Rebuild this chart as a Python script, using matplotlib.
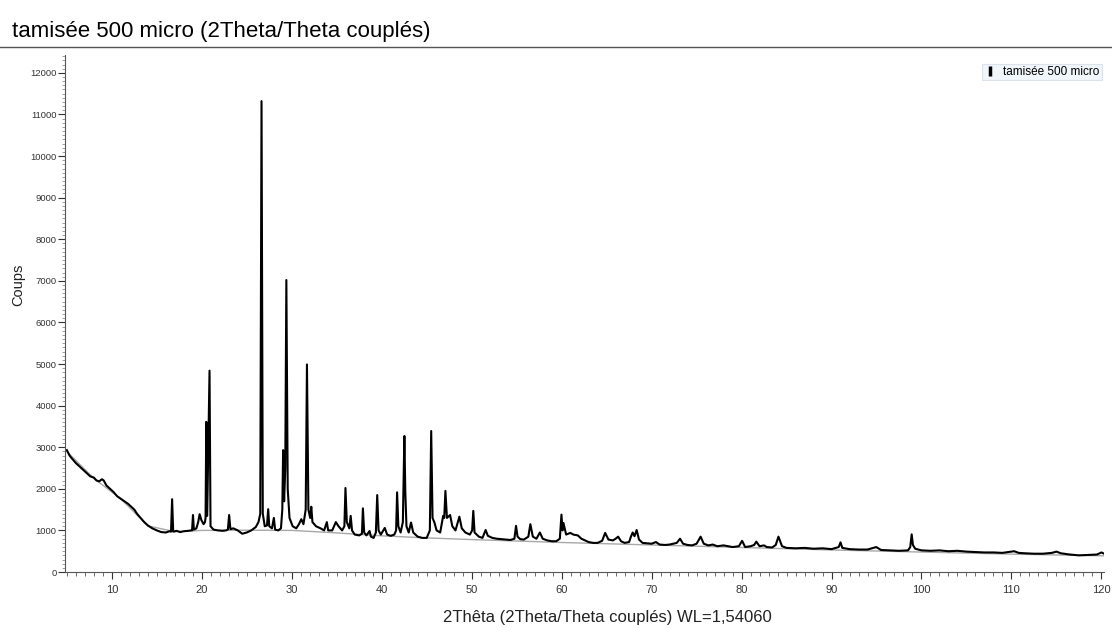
import matplotlib.pyplot as plt
from matplotlib.lines import Line2D
from matplotlib.ticker import MultipleLocator

plt.rcParams['font.family'] = ['Liberation Sans', 'DejaVu Sans']

two_theta = [
    5.0, 5.3, 5.6, 6.0, 6.3, 6.6, 7.0, 7.3, 7.6, 8.0, 8.3, 8.6, 8.9, 9.1, 9.4, 9.8,
    10.2, 10.6, 11.0, 11.4, 11.8, 12.2, 12.5, 12.8, 13.2, 13.6, 14.0, 14.5, 15.0, 15.5,
    16.0, 16.4, 16.58, 16.70, 16.82, 17.2, 17.6, 18.0, 18.5, 18.8, 18.92, 19.02, 19.12,
    19.4, 19.6, 19.76, 19.95, 20.2, 20.35, 20.42, 20.50, 20.60, 20.86, 20.97, 21.3, 21.8,
    22.3, 22.7, 22.9, 23.04, 23.18, 23.5, 24.0, 24.5, 25.0, 25.5, 26.0, 26.3, 26.5, 26.64,
    26.78, 27.0, 27.25, 27.38, 27.5, 27.8, 28.01, 28.15, 28.5, 28.8, 28.95, 29.04, 29.15,
    29.28, 29.40, 29.55, 29.75, 30.1, 30.5, 30.8, 31.06, 31.3, 31.55, 31.69, 31.85, 32.05,
    32.17, 32.3, 32.7, 33.2, 33.6, 33.9, 34.05, 34.5, 34.9, 35.2, 35.6, 35.85, 35.97, 36.12,
    36.4, 36.55, 36.7, 37.0, 37.5, 37.8, 37.91, 38.05, 38.3, 38.65, 38.8, 39.1, 39.35, 39.50,
    39.65, 39.9, 40.34, 40.6, 41.0, 41.4, 41.6, 41.71, 41.85, 42.1, 42.35, 42.52, 42.62,
    42.75, 43.0, 43.26, 43.5, 44.0, 44.5, 45.0, 45.35, 45.50, 45.65, 45.86, 46.1, 46.5,
    46.83, 46.95, 47.08, 47.25, 47.6, 47.85, 48.2, 48.63, 48.9, 49.3, 49.8, 50.05, 50.18,
    50.32, 50.8, 51.2, 51.55, 51.8, 52.3, 52.8, 53.3, 53.8, 54.3, 54.75, 54.93, 55.1, 55.4,
    55.8, 56.3, 56.52, 56.8, 57.2, 57.58, 57.9, 58.4, 58.9, 59.4, 59.8, 59.98, 60.1, 60.2,
    60.5, 60.97, 61.3, 61.8, 62.2, 62.6, 63.0, 63.5, 64.0, 64.5, 64.84, 65.2, 65.7, 66.0,
    66.28, 66.6, 67.0, 67.5, 67.7, 67.90, 68.1, 68.34, 68.6, 69.0, 69.5, 70.0, 70.48, 70.9,
    71.5, 72.0, 72.8, 73.16, 73.5, 74.0, 74.5, 75.0, 75.45, 75.8, 76.3, 76.8, 77.3, 78.0,
    78.5, 79.0, 79.7, 80.06, 80.4, 81.0, 81.4, 81.64, 82.0, 82.5, 82.8, 83.4, 83.8, 84.10,
    84.5, 85.0, 86.0, 87.0, 88.0, 89.0, 90.0, 90.8, 91.0, 91.2, 92.0, 93.0, 94.0, 94.97,
    95.5, 96.5, 97.5, 98.5, 98.75, 98.91, 99.05, 99.3, 100.0, 101.0, 102.0, 103.0, 104.0,
    105.0, 106.0, 107.0, 108.0, 109.0, 110.0, 110.3, 110.8, 111.5, 112.5, 113.5, 114.5,
    115.0, 115.5, 116.5, 117.5, 118.5, 119.5, 120.0, 120.3,
]
counts = [
    2930, 2800, 2720, 2620, 2560, 2500, 2420, 2360, 2300, 2270, 2200, 2180, 2230, 2200, 2080, 2000,
    1920, 1820, 1760, 1700, 1640, 1560, 1500, 1400, 1300, 1200, 1120, 1050, 1000, 960,
    950, 980, 970, 1750, 970, 990, 960, 980, 990, 1000, 1000, 1370, 1020,
    1050, 1200, 1390, 1250, 1150, 1200, 1300, 3610, 1350, 4840, 1100, 1020, 1000,
    990, 1000, 1020, 1370, 1030, 1050, 1000, 920, 950, 1000, 1080, 1200, 1400, 11320,
    1400, 1100, 1120, 1510, 1100, 1050, 1300, 1020, 1000, 1050, 1500, 2930, 1700,
    2500, 7020, 2000, 1300, 1100, 1050, 1150, 1270, 1150, 1500, 4990, 1500, 1300,
    1570, 1200, 1100, 1050, 1000, 1200, 1000, 1000, 1200, 1100, 1000, 1100, 2020, 1200,
    1050, 1350, 1000, 900, 880, 920, 1530, 950, 880, 985, 850, 820, 950, 1850,
    1000, 900, 1060, 900, 870, 900, 1000, 1915, 1100, 950, 1200, 3270, 1940,
    1100, 950, 1190, 950, 850, 820, 820, 1000, 3390, 1300, 1190, 1000, 950,
    1350, 1300, 1950, 1300, 1370, 1100, 1000, 1330, 1050, 950, 900, 1000, 1470,
    950, 850, 820, 1010, 870, 820, 800, 790, 780, 770, 800, 1110, 850, 790,
    780, 850, 1150, 850, 800, 950, 800, 760, 740, 740, 800, 1380, 1000, 1180,
    900, 940, 900, 880, 800, 760, 720, 700, 700, 750, 940, 780, 760, 800,
    850, 740, 700, 720, 850, 950, 860, 1010, 780, 700, 690, 680, 720, 660,
    650, 660, 700, 800, 680, 650, 640, 680, 850, 680, 640, 660, 620, 640,
    620, 600, 620, 750, 600, 620, 650, 730, 620, 640, 600, 590, 650, 850,
    620, 580, 570, 580, 560, 570, 550, 600, 713, 580, 550, 540, 540, 600,
    530, 520, 510, 520, 600, 905, 650, 560, 520, 510, 520, 500, 510,
    490, 480, 470, 470, 460, 490, 500, 460, 450, 440, 440, 460,
    490, 450, 420, 400, 410, 420, 470, 440,
]

# fitted background (grey line)
bg_theta = [5, 8, 11, 14, 17, 20, 25, 30, 35, 40, 45, 50, 60, 70, 80, 90, 100, 110, 120.3]
bg_counts = [2900, 2250, 1760, 1110, 970, 1000, 1005, 1000, 940, 870, 820, 780, 710, 650,
             590, 530, 480, 430, 390]

fig = plt.figure(figsize=(11.12, 6.29), dpi=100)
ax = fig.add_axes([0.0585, 0.0906, 0.9344, 0.822])

ax.plot(bg_theta, bg_counts, color='#a8a8a8', linewidth=1.0, zorder=1)
ax.plot(two_theta, counts, color='black', linewidth=1.5, zorder=2)

ax.set_xlim(4.8, 120.3)
ax.set_ylim(0, 12430)

for side in ['top', 'right']:
    ax.spines[side].set_visible(False)
ax.spines['left'].set_color('#555555')
ax.spines['bottom'].set_color('#555555')
ax.spines['left'].set_linewidth(0.8)
ax.spines['bottom'].set_linewidth(0.8)

ax.xaxis.set_major_locator(MultipleLocator(10))
ax.xaxis.set_minor_locator(MultipleLocator(1))
ax.yaxis.set_major_locator(MultipleLocator(1000))
ax.yaxis.set_minor_locator(MultipleLocator(100))
ax.tick_params(axis='x', which='major', length=5, width=0.8, labelsize=8, pad=4, colors='#333333')
ax.tick_params(axis='x', which='minor', length=3, width=0.6, colors='#555555')
ax.tick_params(axis='y', which='major', length=5, width=0.8, labelsize=6.8, pad=1, colors='#333333')
ax.tick_params(axis='y', which='minor', length=2, width=0.5, colors='#777777')
ax.set_yticks([0, 1000, 2000, 3000, 4000, 5000, 6000, 7000, 8000, 9000, 10000, 11000, 12000])

fig.text(0.011, 0.950, 'tamisée 500 micro (2Theta/Theta couplés)', fontsize=16,
         ha='left', va='center')
fig.add_artist(Line2D([0, 1], [0.925, 0.925], color='#555555', linewidth=1.0))
fig.text(0.546, 0.019, '2Thêta (2Theta/Theta couplés) WL=1,54060', fontsize=12,
         ha='center', va='center', color='#222222')
fig.text(0.016, 0.547, 'Coups', fontsize=10.5, rotation=90, ha='center', va='center',
         color='#222222')

handle = Line2D([], [], linestyle='none', marker='|', markersize=7, markeredgewidth=2.5,
                color='black')
leg = ax.legend([handle], ['tamisée 500 micro'], loc='upper right',
                bbox_to_anchor=(0.991, 0.899), bbox_transform=fig.transFigure,
                fontsize=8.5, frameon=True, fancybox=False, borderpad=0.2,
                handlelength=1.0, handletextpad=0.6, borderaxespad=0)
leg.get_frame().set_facecolor('#eef4fa')
leg.get_frame().set_edgecolor('#d5dde6')
leg.get_frame().set_linewidth(0.8)

plt.savefig('out.png', dpi=100)
